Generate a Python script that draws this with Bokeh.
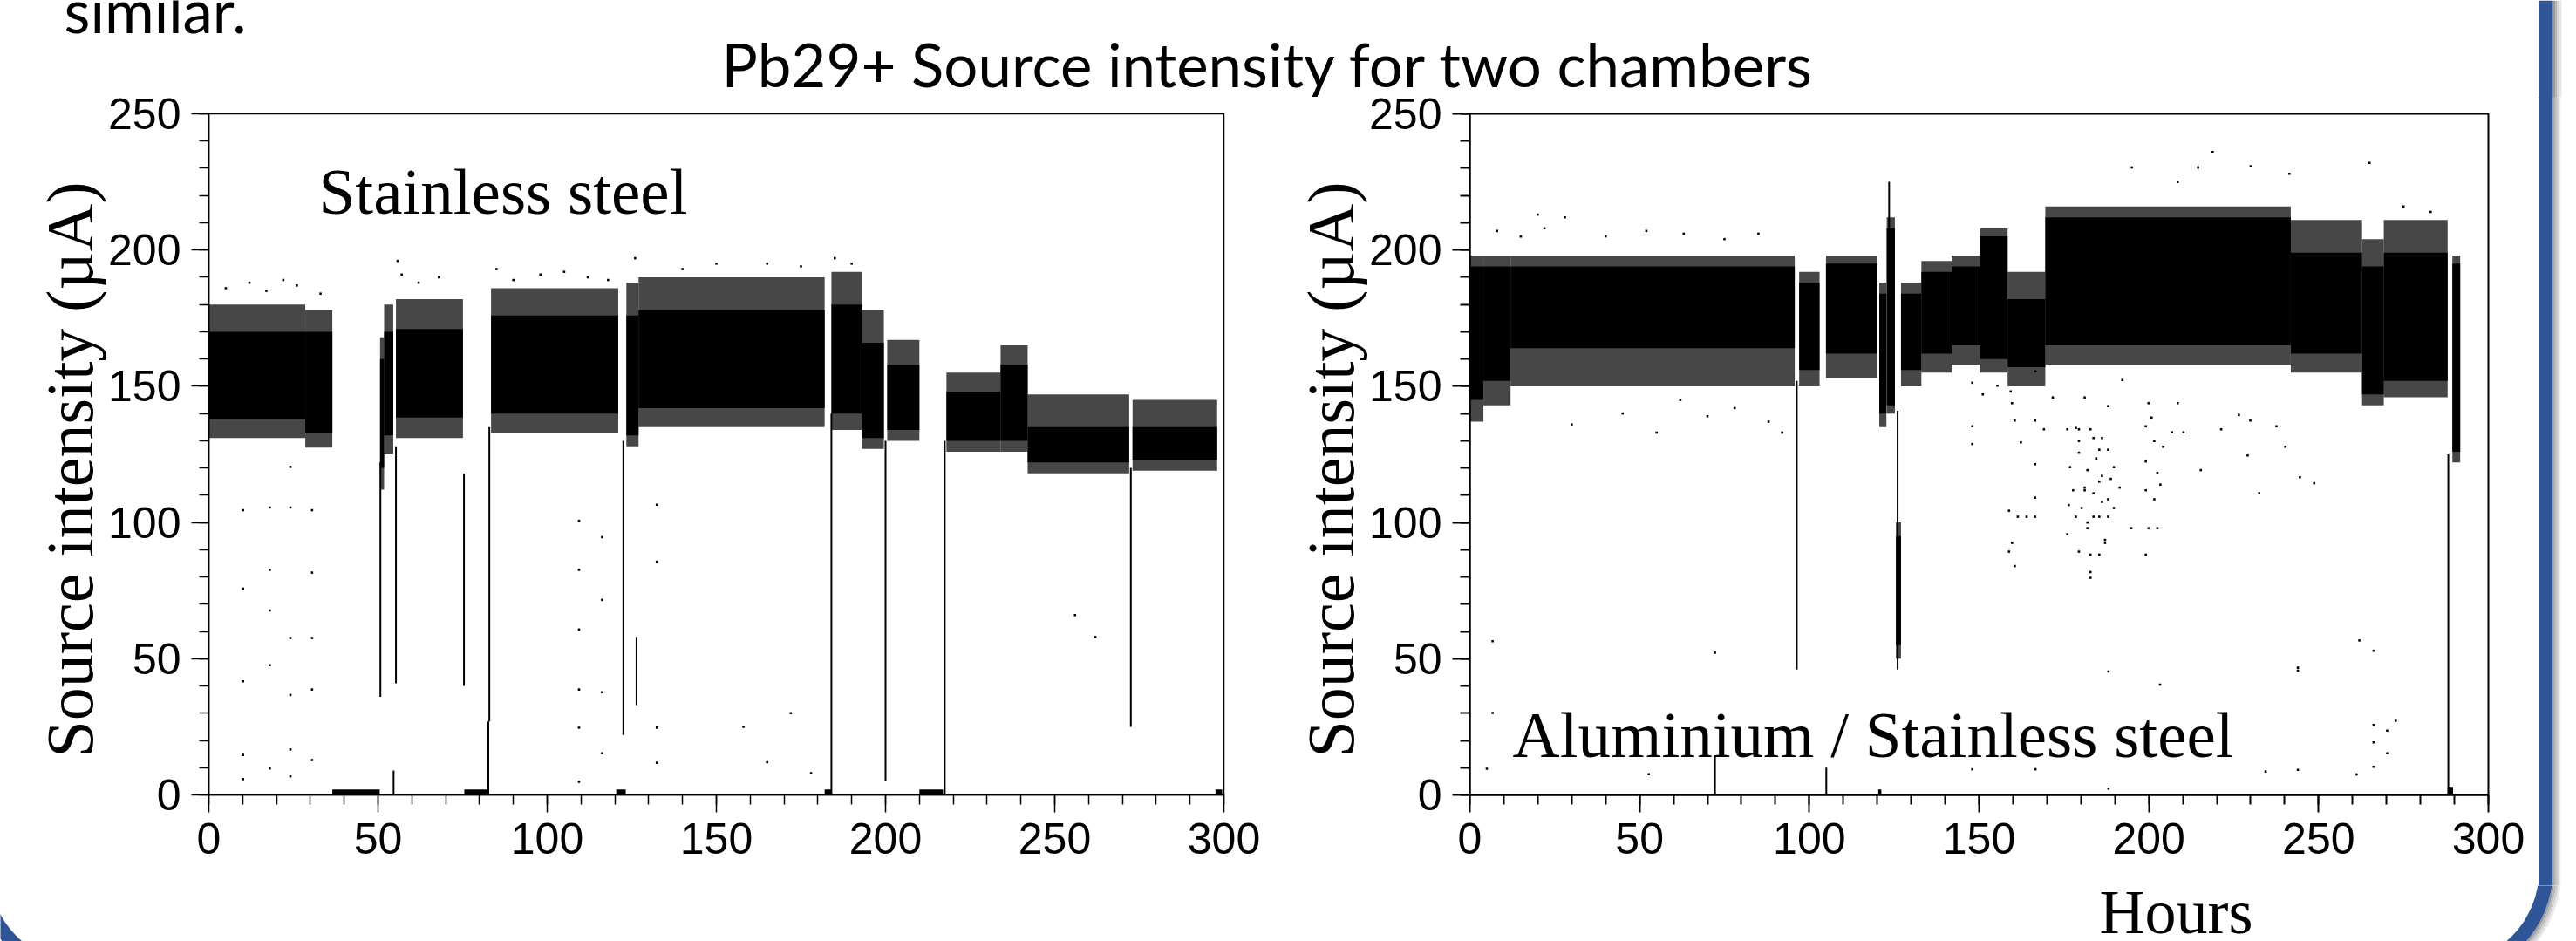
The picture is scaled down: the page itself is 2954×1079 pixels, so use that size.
import math
from bokeh.plotting import figure
from bokeh.models import Range1d, SingleIntervalTicker, Label, Title, Spacer
from bokeh.layouts import column, row
from bokeh.embed import file_html
from bokeh.resources import INLINE
from bokeh.core.properties import value

# ---------------- data : stainless steel chamber (left) ----------------
ss_seg_start = [0, 28.5, 50.6, 51.8, 55.3, 83.4, 123.4, 127, 184, 193, 200.5, 218, 234, 242, 273]
ss_seg_end   = [28.5, 36.5, 51.8, 54.5, 75.1, 121, 127, 182, 193, 199.5, 210, 234, 242, 272, 298]
ss_core_lo   = [138, 133, 120, 132, 138.5, 140, 132, 142, 140, 131, 134, 130, 130, 122, 123]
ss_core_hi   = [170, 170, 160, 170, 171, 176, 176, 178, 180, 166, 158, 148, 158, 135, 135]
ss_fringe_lo = [131, 127.5, 112, 125, 131, 133, 128, 135, 134, 127, 130, 126, 126, 118, 119]
ss_fringe_hi = [180, 178, 168, 180, 182, 186, 188, 190, 192, 178, 167, 155, 165, 147, 145]

ss_zero_start = [36.5, 75.5, 120.4, 182, 210, 297.5]
ss_zero_end   = [50.5, 82.5, 123.2, 184, 217, 299.5]
ss_zero_top   = [2, 2, 2, 2, 2, 2]

ss_streak_hour = [50.7, 55.3, 54.6, 75.4, 82.6, 82.9, 122.5, 126.4, 184, 200, 217.5, 272.5]
ss_streak_lo   = [36, 41, 0, 40, 0, 27, 22, 33, 0, 5, 0, 25]
ss_streak_hi   = [122, 128, 9, 118, 27, 135, 130, 58, 140, 130, 130, 120]

ss_out_hour = [10.1, 10.1, 10.1, 10.1, 10.1, 18, 18, 18, 18, 18, 24.1, 24.1, 24.1, 24.1, 24.1, 24.1,
               30.5, 30.5, 30.5, 30.5, 30.5, 109.4, 109.4, 109.4, 109.4, 109.4, 109.4, 116.2, 116.2,
               116.2, 116.2, 132.4, 132.4, 132.4, 132.4, 158, 165, 172, 178, 256, 262,
               5, 12, 17, 22, 26, 33, 55.8, 57, 62, 68, 85, 90, 98, 105, 112, 118, 126, 140, 150,
               165, 175, 185, 190]
ss_out_val  = [104.5, 75.7, 41.7, 14.7, 5.8, 105.5, 82.6, 67.7, 47.6, 9.7, 120.4, 105.5, 57.6, 36.7,
               16.7, 6.8, 104.5, 81.6, 57.6, 38.7, 12.8, 100.6, 82.6, 60.7, 38.7, 24.7, 4.8, 94.6, 71.6,
               37.7, 15.3, 106.5, 85.6, 24.7, 11.8, 25, 12, 30, 8, 66, 58,
               186, 188, 185, 189, 187, 184, 196, 191, 188, 190, 193, 189, 191, 192, 190, 189, 197,
               193, 195, 195, 194, 197, 195]

# ---------------- data : aluminium / stainless steel chamber (right) ----------------
al_seg_start = [0, 4, 12, 97, 104.9, 120.6, 122.8, 125.5, 127, 133, 142, 150.3, 158.4, 169.5, 241.8, 262.8, 269.2, 289.4]
al_seg_end   = [4, 12, 95.7, 103, 120, 122.7, 125.2, 127, 133, 142, 150.3, 158.4, 169.5, 241.8, 262.8, 269.2, 288, 291.7]
al_core_lo   = [145, 152, 164, 156, 162, 140, 143, 55, 156, 162, 165, 160, 157, 165, 162, 147, 152, 126]
al_core_hi   = [194, 194, 194, 188, 195, 184, 208, 95, 184, 192, 194, 205, 182, 212, 199, 194, 199, 195]
al_fringe_lo = [137, 143, 150, 150, 153, 135, 140, 50, 150, 155, 158, 155, 150, 158, 155, 143, 146, 122]
al_fringe_hi = [198, 198, 198, 192, 198, 188, 212, 100, 188, 196, 198, 208, 192, 216, 211, 204, 211, 198]

al_zero_start = [288.0, 120.3]
al_zero_end   = [289.6, 121.2]
al_zero_top   = [3, 2]

al_streak_hour = [96.3, 126.0, 123.5, 288.2, 72.2, 105.0]
al_streak_lo   = [46, 46, 208, 0, 0, 0]
al_streak_hi   = [152, 141, 225, 125, 14, 10]

al_out_hour = [159.3, 159.7, 160.5, 162.3, 166.5, 169.1, 166.5, 166.5, 158.8, 161.4, 164, 166.5, 159.7,
               158.8, 160.5, 171.7, 176, 178.5, 179.4, 183.7, 185.4, 176.8, 177.7, 181.1, 183.7, 176.4,
               178.5, 181.9, 185.4, 176, 179.4, 182.8, 186.2, 188, 187.1, 182.8, 148, 148, 148, 151.1,
               155.4,
               179.4, 182.8, 186.2, 188, 184.5, 189.7, 181.9, 179.4, 181.1, 185.4, 188.8, 191.4, 180.2,
               186.2, 183.7, 188, 189.7, 181.9, 187.1, 194.8, 199.1, 199.1, 201.6, 204.2, 206.8, 210.2,
               202.5, 199.1, 203.4, 201.6, 199.9, 202.5, 199.1, 182.8, 185.4, 208.5, 199.9, 221.3, 226.5,
               229.9, 237.6, 240.2, 229.1, 215.3, 232.5, 244.5, 248.7, 200.8, 188, 181.1, 192.2,
               166.6, 188.1, 203.3, 243.9, 262, 266.2, 243.9, 266.2, 272.7, 270.2, 266.2, 270.2, 266.2,
               243.9, 166.6, 148, 261.2, 234.4, 188.1, 52.7, 72.2, 6.7, 6.7,
               5, 8, 15, 22, 28, 40, 52, 63, 75, 85, 181.1, 195, 208.5, 214.5, 218.8, 230, 241.4, 265,
               275, 283, 20, 30, 45, 55, 62, 70, 78, 88, 92]
al_out_val  = [148.1, 143.8, 137.4, 129.4, 137.4, 134.2, 121.4, 109.1, 104.3, 102.1, 102.1, 102.1, 92.5,
               89.3, 84, 145.9, 134.2, 134.7, 129.9, 131, 126.7, 120.3, 111.8, 112.8, 110.7, 106.4,
               102.1, 100, 102.1, 95.7, 89.3, 88.2, 117.1, 108.5, 92.5, 79.7, 135.3, 128.8, 151.3, 147,
               150.2,
               134.2, 134.2, 131, 126.7, 123.5, 120.3, 119.2, 125.6, 111.8, 115, 116, 112.8, 105.3,
               107.5, 102.1, 102.1, 105.3, 97.9, 93.6, 97.9, 135.3, 122.4, 129.9, 127.8, 133.1, 133.1,
               118.2, 111.8, 113.9, 108.5, 97.9, 97.9, 88.2, 81.8, 88.2, 143.8, 143.8, 134.2, 139.5,
               137.4, 135.3, 127.8, 124.6, 119.2, 110.7, 116.6, 114.4, 138.5, 142.7, 145.9, 152.3, 155.5,
               45.3, 40.5, 45.6, 56.7, 52.9, 46.7, 25.7, 27.2, 23.6, 19.3, 15.3, 10.3, 9.2,
               9.4, 9.4, 7.5, 8.6, 2.3, 7.6, 52.2, 56.4, 30.1, 9.6,
               207, 205, 208, 212, 205, 207, 206, 204, 206, 203, 230.3, 225, 230.3, 236, 230.8, 228, 232,
               216, 214, 213, 136, 140, 133, 145, 139, 142, 137, 133, 141]

x_tick_interval = 50
y_tick_interval = 50

# ---------------- page geometry (absolute px, page has no margin) ----------------
PAGE_W, PAGE_H = 2954, 1079
HDR_H = 111
FOOT_Y = 1015
PANEL_H = FOOT_Y - HDR_H
FOOT_H = PAGE_H - FOOT_Y
LEFT_W = 1470
BRD_X = 2897
RIGHT_W = BRD_X - LEFT_W
BRD_W = PAGE_W - BRD_X
FRAME_TOP, FRAME_BOT = 130, 911

BLUE = "#2F5597"
SHADOW = ["#9C9C9C", "#B8B8B8", "#D2D2D2", "#E8E8E8"]
SHIFT_SANS = 24    # renderer's alphabetic-baseline offset, px
SHIFT_SERIF = 28


def canvas_fig(x0, y0, w, h):
    """a figure whose frame is the whole canvas, ranges in absolute page pixels (y down)"""
    f = figure(width=w, height=h, x_range=Range1d(x0, x0 + w), y_range=Range1d(y0 + h, y0),
               x_axis_type=None, y_axis_type=None, output_backend="svg", toolbar_location=None,
               title=None, min_border=0)
    f.grid.visible = False
    f.outline_line_color = None
    f.background_fill_color = "white"
    f.border_fill_color = "white"
    return f


def slide_frame(f, y_top, y_bot):
    """right edge of the slide's rounded frame + its shadow, and the bottom corners"""
    for i, c in enumerate(SHADOW):
        f.quad(left=[2927 + 2.5 * i], right=[2929.5 + 2.5 * i], top=[y_top], bottom=[y_bot],
               fill_color=c, line_color=None)
        f.annular_wedge(x=[2805], y=[998], inner_radius=122 + 2.5 * i, outer_radius=124.5 + 2.5 * i,
                        start_angle=-math.pi / 2, end_angle=0, fill_color=c, line_color=None)
    f.quad(left=[2911], right=[2927], top=[y_top], bottom=[y_bot], fill_color=BLUE, line_color=None)
    f.annular_wedge(x=[2805], y=[998], inner_radius=106, outer_radius=122,
                    start_angle=-math.pi / 2, end_angle=0, fill_color=BLUE, line_color=None)
    f.annular_wedge(x=[93.5], y=[998], inner_radius=106, outer_radius=122,
                    start_angle=math.pi, end_angle=1.5 * math.pi, fill_color=BLUE, line_color=None)


def make_panel(width, mb_left, lw, frame_w, ylab_offset):
    mb_top = FRAME_TOP - HDR_H
    frame_h = FRAME_BOT - FRAME_TOP
    p = figure(width=width, height=PANEL_H, x_range=Range1d(0, 300), y_range=Range1d(0, 250),
               output_backend="svg", toolbar_location=None, title=None,
               min_border_left=mb_left, min_border_right=width - mb_left - frame_w,
               min_border_top=mb_top, min_border_bottom=PANEL_H - mb_top - frame_h)
    p.grid.visible = False
    p.background_fill_color = "white"
    p.border_fill_color = "white"
    p.outline_line_color = "black"
    p.outline_line_width = lw
    p.outline_line_alpha = 1
    p.xaxis.ticker = SingleIntervalTicker(interval=x_tick_interval, num_minor_ticks=5)
    p.yaxis.ticker = SingleIntervalTicker(interval=y_tick_interval, num_minor_ticks=5)
    for ax in (p.xaxis, p.yaxis):
        ax.major_tick_out = 20
        ax.major_tick_in = 0
        ax.minor_tick_out = 11
        ax.minor_tick_in = 0
        ax.axis_line_color = "black"
        ax.axis_line_width = lw
        ax.major_tick_line_color = "black"
        ax.major_tick_line_width = lw
        ax.minor_tick_line_color = "black"
        ax.minor_tick_line_width = lw
        ax.major_label_text_font = "Liberation Sans"
        ax.major_label_text_font_size = "50px"
        ax.major_label_text_color = "black"
        ax.major_label_standoff = 12
    p.add_layout(Title(text="Source intensity (µA)", align="left", offset=ylab_offset, standoff=0,
                       text_font="Liberation Serif", text_font_size="76px",
                       text_font_style="normal", text_color="black"), "left")
    return p


def draw_series(p, seg_s, seg_e, clo, chi, flo, fhi, z_s, z_e, z_t, st_h, st_lo, st_hi, o_h, o_v):
    # speckled fringe and solid core of the measurement cloud
    p.quad(left=seg_s, right=seg_e, bottom=flo, top=fhi, fill_color="black", fill_alpha=0.72,
           line_color=None)
    p.quad(left=seg_s, right=seg_e, bottom=clo, top=chi, fill_color="black", line_color=None)
    p.quad(left=z_s, right=z_e, bottom=[0] * len(z_s), top=z_t, fill_color="black", line_color=None)
    p.segment(x0=st_h, y0=st_lo, x1=st_h, y1=st_hi, line_color="black", line_width=2)
    p.scatter(x=o_h, y=o_v, marker="square", size=2.6, fill_color="black", line_color=None)


# ---------------- header (slide text) ----------------
hdr = canvas_fig(0, 0, PAGE_W, HDR_H)
hdr.text(x=[73], y=[32 - SHIFT_SANS + 3], text=["similar."], text_font=value("Lato"),
         text_font_size=value("69px"), text_baseline="alphabetic", text_align="left", text_color="black")
hdr.text(x=[827], y=[97 - SHIFT_SANS], text=["Pb29+ Source intensity for two chambers"],
         text_font=value("Lato"), text_font_size=value("69px"), text_baseline="alphabetic",
         text_align="left", text_color="black")
slide_frame(hdr, 0, HDR_H)

# ---------------- left panel ----------------
left = make_panel(LEFT_W, 239, 1.5, 1164, FRAME_BOT - 868)
draw_series(left, ss_seg_start, ss_seg_end, ss_core_lo, ss_core_hi, ss_fringe_lo, ss_fringe_hi,
            ss_zero_start, ss_zero_end, ss_zero_top, ss_streak_hour, ss_streak_lo, ss_streak_hi,
            ss_out_hour, ss_out_val)
left.add_layout(Label(x=32.5, y=(FRAME_BOT - 247 + SHIFT_SERIF) / 3.124, text="Stainless steel",
                      text_font="Liberation Serif", text_font_size="75px",
                      text_baseline="alphabetic", text_color="black"))

# ---------------- right panel ----------------
right = make_panel(RIGHT_W, 1685 - LEFT_W, 2, 1168, FRAME_BOT - 868)
draw_series(right, al_seg_start, al_seg_end, al_core_lo, al_core_hi, al_fringe_lo, al_fringe_hi,
            al_zero_start, al_zero_end, al_zero_top, al_streak_hour, al_streak_lo, al_streak_hi,
            al_out_hour, al_out_val)
right.add_layout(Label(x=12.6, y=(FRAME_BOT - 870 + SHIFT_SERIF) / 3.124, text="Aluminium / Stainless steel",
                       text_font="Liberation Serif", text_font_size="75px",
                       text_baseline="alphabetic", text_color="black"))

# ---------------- slide frame strip beside the panels (plain block, not a plot) ----------------
strip_bg = ("linear-gradient(to right, #ffffff 0px, #ffffff 14px, {b} 14px, {b} 30px, "
            "{s0} 30px, {s1} 33px, {s2} 36px, {s3} 38px, #ffffff 40px, #ffffff 57px)").format(
    b=BLUE, s0=SHADOW[0], s1=SHADOW[1], s2=SHADOW[2], s3=SHADOW[3])
brd = Spacer(width=BRD_W, height=PANEL_H, margin=(0, 0, 0, 0), styles={"background": strip_bg})

# ---------------- footer: x-axis title of the right panel + frame corners ----------------
foot = canvas_fig(0, FOOT_Y, PAGE_W, FOOT_H)
foot.text(x=[2407], y=[1073 - SHIFT_SERIF], text=["Hours"], text_font=value("Liberation Serif"),
          text_font_size=value("72px"), text_baseline="alphabetic", text_align="left",
          text_color="black")
slide_frame(foot, FOOT_Y, 998)

layout = column(hdr, row(left, right, brd, spacing=0), foot, spacing=0)
open("out.html", "w").write(file_html(layout, INLINE))
